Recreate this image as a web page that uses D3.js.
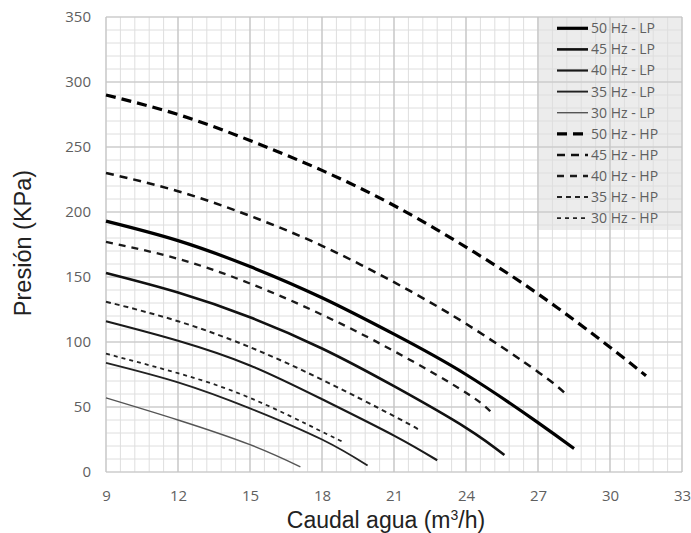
<!DOCTYPE html>
<html>
<head>
<meta charset="utf-8">
<script src="https://cdn.jsdelivr.net/npm/d3@7"></script>
<style>
  body { margin: 0; background: #fff; }
</style>
</head>
<body>
<div id="chart"></div>
<script>
// Curve points: [caudal m3/h, presion KPa]
const lp50 = [[9, 193], [12, 178], [15, 158], [18, 134], [21, 106], [24, 75], [27, 38], [28.5, 18]];
const lp45 = [[9, 153], [12, 138], [15, 119], [18, 95], [21, 66], [24, 34], [25.6, 13]];
const lp40 = [[9, 116], [12, 101], [15, 82], [18, 56], [21, 28], [22.8, 9]];
const lp35 = [[9, 84], [12, 69], [15, 49], [18, 25], [19.9, 5]];
const lp30 = [[9, 57], [12, 40], [15, 21], [17.1, 4]];
const hp50 = [[9, 290], [12, 275], [15, 255], [18, 232], [21, 205], [24, 173], [27, 137], [30, 96], [31.5, 74]];
const hp45 = [[9, 230], [12, 216], [15, 197], [18, 174], [21, 146], [24, 114], [27, 77], [28.1, 61]];
const hp40 = [[9, 177], [12, 164], [15, 145], [18, 121], [21, 93], [24, 61], [25.1, 45]];
const hp35 = [[9, 131], [12, 116], [15, 96], [18, 71], [21, 43], [22, 33]];
const hp30 = [[9, 91], [12, 76], [15, 57], [18, 31], [18.9, 23]];

const seriesNames = ["50 Hz - LP", "45 Hz - LP", "40 Hz - LP", "35 Hz - LP", "30 Hz - LP",
                     "50 Hz - HP", "45 Hz - HP", "40 Hz - HP", "35 Hz - HP", "30 Hz - HP"];
const seriesData = [lp50, lp45, lp40, lp35, lp30, hp50, hp45, hp40, hp35, hp30];

const xTicks = [9, 12, 15, 18, 21, 24, 27, 30, 33];
const yTicks = [0, 50, 100, 150, 200, 250, 300, 350];

// line look for each series
const strokeW = [3.2, 2.6, 2.2, 1.9, 1.4, 3.2, 2.5, 2.3, 2, 1.8];
const strokeC = ["#000", "#111", "#1a1a1a", "#222", "#555", "#000", "#111", "#1a1a1a", "#222", "#222"];
const dashes = [null, null, null, null, null, "10,6", "8,6", "7,6", "5,4", "4,4"];

const width = 691, height = 533;
const margin = {top: 17, right: 9, bottom: 61, left: 106};

const svg = d3.select("#chart")
    .append("svg")
    .attr("width", width)
    .attr("height", height)
    .style("background", "#fff");

const xScale = d3.scaleLinear()
    .domain([9, 33])
    .range([margin.left, width - margin.right]);

const yScale = d3.scaleLinear()
    .domain([0, 350])
    .range([height - margin.bottom, margin.top]);

// legend background sits under the grid
const legX = 537, legY = 17, legW = xScale(33) - 537, legH = 213;
svg.append("rect")
    .attr("x", legX)
    .attr("y", legY)
    .attr("width", legW)
    .attr("height", legH)
    .attr("fill", "#ececec");

// minor grid
const minorX = d3.range(9, 33.001, 0.6);
const minorY = d3.range(0, 350.001, 10);
svg.append("g").selectAll("line")
    .data(minorX)
    .enter().append("line")
    .attr("x1", d => xScale(d)).attr("x2", d => xScale(d))
    .attr("y1", yScale(0)).attr("y2", yScale(350))
    .attr("stroke", "#dedede").attr("stroke-width", 1);
svg.append("g").selectAll("line")
    .data(minorY)
    .enter().append("line")
    .attr("x1", xScale(9)).attr("x2", xScale(33))
    .attr("y1", d => yScale(d)).attr("y2", d => yScale(d))
    .attr("stroke", "#dedede").attr("stroke-width", 1);

// major grid
svg.append("g").selectAll("line")
    .data(xTicks)
    .enter().append("line")
    .attr("x1", d => xScale(d)).attr("x2", d => xScale(d))
    .attr("y1", yScale(0)).attr("y2", yScale(350))
    .attr("stroke", "#c4c4c4").attr("stroke-width", 1.2);
svg.append("g").selectAll("line")
    .data(yTicks)
    .enter().append("line")
    .attr("x1", xScale(9)).attr("x2", xScale(33))
    .attr("y1", d => yScale(d)).attr("y2", d => yScale(d))
    .attr("stroke", "#c4c4c4").attr("stroke-width", 1.2);

// axes (labels only)
const xAxis = svg.append("g")
    .attr("transform", `translate(0,${yScale(0)})`)
    .call(d3.axisBottom(xScale).tickValues(xTicks).tickSize(0).tickPadding(18));
const yAxis = svg.append("g")
    .attr("transform", `translate(${xScale(9)},0)`)
    .call(d3.axisLeft(yScale).tickValues(yTicks).tickSize(0).tickPadding(15));
[xAxis, yAxis].forEach(g => {
    g.select(".domain").remove();
    g.selectAll("text")
        .style("font-family", "'Open Sans', sans-serif")
        .style("font-size", "15px")
        .attr("fill", "#5f5f5f");
});

// curves
const line = d3.line()
    .x(d => xScale(d[0]))
    .y(d => yScale(d[1]))
    .curve(d3.curveNatural);

svg.append("g").selectAll("path")
    .data(seriesData)
    .enter().append("path")
    .attr("d", d => line(d))
    .attr("fill", "none")
    .attr("stroke", (d, i) => strokeC[i])
    .attr("stroke-width", (d, i) => strokeW[i])
    .attr("stroke-dasharray", (d, i) => dashes[i]);

// legend
const legend = svg.selectAll(".legend")
    .data(seriesNames)
    .enter().append("g")
    .attr("class", "legend")
    .attr("transform", (d, i) => "translate(0," + (28.3 + i * 21.1) + ")");

legend.append("line")
    .attr("x1", 557).attr("x2", 588)
    .attr("y1", 0).attr("y2", 0)
    .attr("stroke", (d, i) => strokeC[i])
    .attr("stroke-width", (d, i) => strokeW[i])
    .attr("stroke-dasharray", (d, i) => dashes[i]);

legend.append("text")
    .attr("x", 591)
    .attr("y", 0)
    .attr("dy", "0.35em")
    .style("font-family", "'Open Sans', sans-serif")
    .style("font-size", "14px")
    .attr("fill", "#5f5f5f")
    .text(d => d);

// axis titles
const xTitle = svg.append("text")
    .attr("x", 386)
    .attr("y", 528)
    .style("text-anchor", "middle")
    .style("font-family", "'Liberation Sans', Arial, sans-serif")
    .style("font-size", "23px")
    .attr("fill", "#222");
xTitle.append("tspan").text("Caudal agua (m");
xTitle.append("tspan").attr("dy", -8).style("font-size", "14px").text("3");
xTitle.append("tspan").attr("dy", 8).text("/h)");

svg.append("text")
    .attr("transform", "rotate(-90)")
    .attr("x", -243)
    .attr("y", 31)
    .style("text-anchor", "middle")
    .style("font-family", "'Liberation Sans', Arial, sans-serif")
    .style("font-size", "23.5px")
    .attr("fill", "#222")
    .text("Presión (KPa)");
</script>
</body>
</html>
